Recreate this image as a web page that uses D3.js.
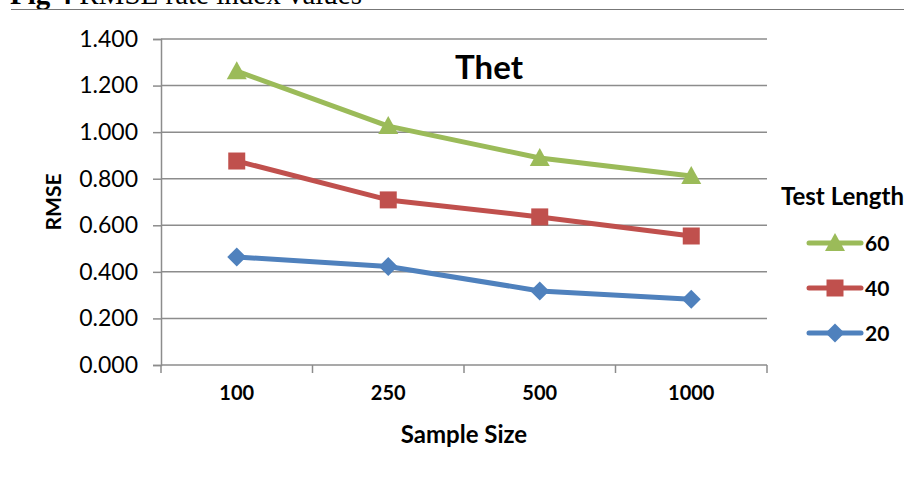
<!DOCTYPE html>
<html>
<head>
<meta charset="utf-8">
<script src="https://cdn.jsdelivr.net/npm/d3@7"></script>
<style>
  html, body { margin: 0; padding: 0; background: #fff; }
  svg { display: block; }
</style>
</head>
<body>
<svg id="chart" width="904" height="479"></svg>
<script>
// Sample sizes along the x axis
const sampleSizes = ["100", "250", "500", "1000"];
// RMSE of theta per test length
const rmse60 = [1.262, 1.026, 0.889, 0.812];
const rmse40 = [0.876, 0.709, 0.636, 0.554];
const rmse20 = [0.464, 0.423, 0.318, 0.282];
const yTicks = [0, 0.2, 0.4, 0.6, 0.8, 1.0, 1.2, 1.4];
const legendLabels = ["60", "40", "20"];

const series = [
  { name: "60", values: rmse60, color: "#9BBB59", shape: "triangle" },
  { name: "40", values: rmse40, color: "#C0504D", shape: "square" },
  { name: "20", values: rmse20, color: "#4F81BD", shape: "diamond" }
];

const svg = d3.select("#chart");
const font = "Lato, 'Open Sans', sans-serif";
const gridColor = "#8c8c8c";

// Figure caption above the chart (runs off the top edge)
svg.append("text")
  .attr("x", 10).attr("y", 4)
  .attr("font-family", "'Liberation Serif', 'Times New Roman', serif")
  .attr("font-size", 29)
  .call(t => {
    t.append("tspan").attr("font-weight", "bold").text("Fig 4 ");
    t.append("tspan").text("RMSE rate index values");
  });
svg.append("line")
  .attr("x1", 11).attr("x2", 904).attr("y1", 9.5).attr("y2", 9.5)
  .attr("stroke", "#777").attr("stroke-width", 1.2);

const plot = { left: 161, right: 767, top: 39, bottom: 365 };

const x = d3.scaleBand().domain(sampleSizes).range([plot.left, plot.right]).padding(0);
const y = d3.scaleLinear().domain([0, 1.4]).range([plot.bottom, plot.top]);

// Horizontal gridlines
svg.append("g")
  .selectAll("line")
  .data(yTicks.filter(d => d > 0))
  .join("line")
  .attr("x1", plot.left).attr("x2", plot.right)
  .attr("y1", d => y(d)).attr("y2", d => y(d))
  .attr("stroke", gridColor).attr("stroke-width", 1.5);

// Y axis
const yAxis = svg.append("g")
  .attr("transform", `translate(${plot.left},0)`)
  .call(d3.axisLeft(y).tickValues(yTicks).tickFormat(d3.format(".3f")).tickSize(8).tickPadding(15));
yAxis.select(".domain").attr("stroke", gridColor).attr("stroke-width", 1.5);
yAxis.selectAll(".tick line").attr("stroke", gridColor).attr("stroke-width", 1.5);
yAxis.selectAll(".tick text")
  .attr("font-family", font).attr("font-size", 23).attr("fill", "#000");

// X axis with ticks at the category boundaries
const xAxis = svg.append("g")
  .attr("transform", `translate(0,${plot.bottom})`)
  .call(d3.axisBottom(x).tickSize(0).tickPadding(21));
xAxis.select(".domain").remove();
xAxis.append("line")
  .attr("x1", plot.left).attr("x2", plot.right)
  .attr("stroke", gridColor).attr("stroke-width", 1.5);
xAxis.selectAll(".boundary")
  .data(sampleSizes.map(d => x(d)).concat([plot.right]))
  .join("line")
  .attr("class", "boundary")
  .attr("x1", d => d).attr("x2", d => d)
  .attr("y1", 0).attr("y2", 8)
  .attr("stroke", gridColor).attr("stroke-width", 1.5);
xAxis.selectAll(".tick text")
  .attr("font-family", font).attr("font-size", 20).attr("font-weight", "bold").attr("fill", "#000");

// Axis titles
svg.append("text")
  .attr("transform", `translate(61,${(plot.top + plot.bottom) / 2}) rotate(-90)`)
  .attr("text-anchor", "middle")
  .attr("font-family", font).attr("font-size", 21).attr("font-weight", "bold")
  .text("RMSE");
svg.append("text")
  .attr("x", 464).attr("y", 443)
  .attr("text-anchor", "middle")
  .attr("font-family", font).attr("font-size", 24).attr("font-weight", "bold")
  .text("Sample Size");

// Chart title
svg.append("text")
  .attr("x", 489).attr("y", 79)
  .attr("text-anchor", "middle")
  .attr("font-family", font).attr("font-size", 33).attr("font-weight", "bold")
  .text("Thet");

// Marker shapes, centred on the data point
const markerPath = {
  triangle: "M0,-10L10,8L-10,8Z",
  square: "M-8.5,-8.5H8.5V8.5H-8.5Z",
  diamond: "M0,-9.5L9.5,0L0,9.5L-9.5,0Z"
};

const cx = d => x(d) + x.bandwidth() / 2;
const line = d3.line().x((v, i) => cx(sampleSizes[i])).y(v => y(v));

series.slice().reverse().forEach(s => {
  const g = svg.append("g");
  g.append("path")
    .attr("d", line(s.values))
    .attr("fill", "none").attr("stroke", s.color).attr("stroke-width", 5)
    .attr("stroke-linejoin", "round").attr("stroke-linecap", "round");
  g.selectAll("path.marker")
    .data(s.values)
    .join("path")
    .attr("class", "marker")
    .attr("d", markerPath[s.shape])
    .attr("transform", (v, i) => `translate(${cx(sampleSizes[i])},${y(v)})`)
    .attr("fill", s.color);
});

// Legend
const legend = svg.append("g");
legend.append("text")
  .attr("x", 781).attr("y", 205)
  .attr("font-family", font).attr("font-size", 24).attr("font-weight", "bold")
  .text("Test Length");
series.forEach((s, i) => {
  const ly = 243 + i * 45;
  const row = legend.append("g");
  row.append("line")
    .attr("x1", 809).attr("x2", 861).attr("y1", ly).attr("y2", ly)
    .attr("stroke", s.color).attr("stroke-width", 5).attr("stroke-linecap", "round");
  row.append("path")
    .attr("d", markerPath[s.shape])
    .attr("transform", `translate(835,${ly})`)
    .attr("fill", s.color);
  row.append("text")
    .attr("x", 865).attr("y", ly + 8)
    .attr("font-family", font).attr("font-size", 21).attr("font-weight", "bold")
    .text(legendLabels[i]);
});
</script>
</body>
</html>
